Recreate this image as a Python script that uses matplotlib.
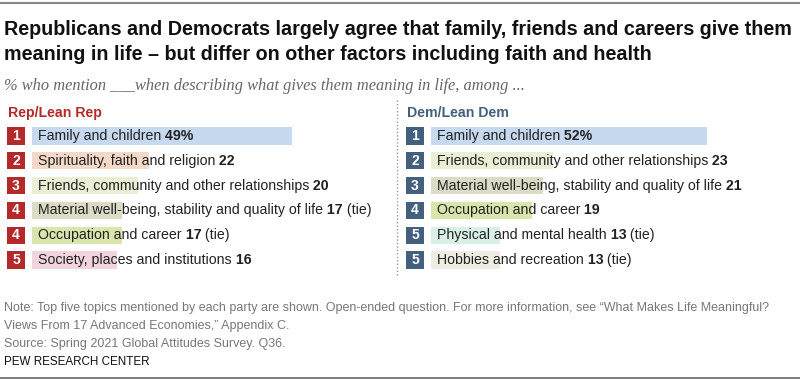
import matplotlib
matplotlib.use("Agg")
import matplotlib.pyplot as plt
from matplotlib.lines import Line2D

# Start Data Section *********************************************
rep_topics = ["Family and children", "Spirituality, faith and religion",
              "Friends, community and other relationships",
              "Material well-being, stability and quality of life",
              "Occupation and career", "Society, places and institutions"]
rep_values = [49, 22, 20, 17, 17, 16]
rep_ranks = ["1", "2", "3", "4", "4", "5"]
rep_value_labels = ["49%", "22", "20", "17", "17", "16"]
rep_ties = ["", "", "", " (tie)", " (tie)", ""]

dem_topics = ["Family and children", "Friends, community and other relationships",
              "Material well-being, stability and quality of life",
              "Occupation and career", "Physical and mental health",
              "Hobbies and recreation"]
dem_values = [52, 23, 21, 19, 13, 13]
dem_ranks = ["1", "2", "3", "4", "5", "5"]
dem_value_labels = ["52%", "23", "21", "19", "13", "13"]
dem_ties = ["", "", "", "", " (tie)", " (tie)"]

topic_colors = {
    "Family and children": "#c7d9ef",
    "Spirituality, faith and religion": "#f5d9c8",
    "Friends, community and other relationships": "#e9eed5",
    "Material well-being, stability and quality of life": "#dcdcc6",
    "Occupation and career": "#d9e5ad",
    "Society, places and institutions": "#f1d4de",
    "Physical and mental health": "#d8f0e6",
    "Hobbies and recreation": "#efece1",
}
# End Data Section ***********************************************

W, H = 800, 380
PX_PER_PCT = 5.31
ROW_H = 24.8
REP_RED = "#b42a2a"
DEM_BLUE = "#43607f"
SANS = ["Liberation Sans", "DejaVu Sans"]

fig = plt.figure(figsize=(W / 100, H / 100), dpi=100)
fig.patch.set_facecolor("white")


def fx(px):
    return px / W


def fy(py):
    return 1 - py / H


def draw_label(ax, y, parts):
    # parts: list of (text, weight); each part placed right after the previous one
    prev = ax.text(6 / PX_PER_PCT, y, parts[0][0], fontweight=parts[0][1],
                   fontsize=10.2, family=SANS, color="#222222", va="center", ha="left")
    for txt, weight in parts[1:]:
        prev = ax.annotate(txt, xy=(1, 0), xycoords=prev, va="bottom", ha="left",
                           fontsize=10.2, family=SANS, fontweight=weight, color="#222222")


def draw_panel(left_px, header, header_color, topics, values, ranks, vlabels, ties):
    top_px = 123.6
    width_px = 366
    ax = fig.add_axes([fx(left_px), fy(top_px + 6 * ROW_H), fx(width_px), 6 * ROW_H / H])
    ax.set_xlim(0, width_px / PX_PER_PCT)
    ax.set_ylim(5.5, -0.5)
    ax.axis("off")
    rows = list(range(len(topics)))
    ax.barh(rows, values, height=0.69, color=[topic_colors[t] for t in topics], lw=0)
    # rank squares to the left of the bars
    ax.barh(rows, 18 / PX_PER_PCT, left=-25 / PX_PER_PCT, height=0.69,
            color=header_color, lw=0, clip_on=False)
    for r, rank, topic, vl, tie in zip(rows, ranks, topics, vlabels, ties):
        ax.text(-16 / PX_PER_PCT, r, rank, color="white", fontweight="bold",
                fontsize=10, family=SANS, ha="center", va="center")
        parts = [(topic, "normal"), (" " + vl, "bold")]
        if tie:
            parts.append((tie, "normal"))
        draw_label(ax, r, parts)
    fig.text(fx(left_px - 24), fy(113), header, color=header_color, fontweight="bold",
             fontsize=10.2, family=SANS, va="center", ha="left")
    return ax


draw_panel(32, "Rep/Lean Rep", REP_RED, rep_topics, rep_values, rep_ranks,
           rep_value_labels, rep_ties)
draw_panel(431, "Dem/Lean Dem", DEM_BLUE, dem_topics, dem_values, dem_ranks,
           dem_value_labels, dem_ties)

# dotted separator and rules
fig.add_artist(Line2D([fx(397), fx(397)], [fy(100), fy(275)], color="#999999",
                      lw=1, ls=(0, (1, 1.5))))
fig.add_artist(Line2D([0, 1], [fy(2.5), fy(2.5)], color="#888888", lw=1.5))
fig.add_artist(Line2D([0, 1], [fy(378), fy(378)], color="#666666", lw=1.2))

# title and subtitle
fig.text(fx(4), fy(35), "Republicans and Democrats largely agree that family, friends and careers give them",
         fontsize=14.2, fontweight="bold", family=SANS, color="#111111", va="baseline")
fig.text(fx(4), fy(60), "meaning in life \u2013 but differ on other factors including faith and health",
         fontsize=14.2, fontweight="bold", family=SANS, color="#111111", va="baseline")
fig.text(fx(4), fy(90), "% who mention ___when describing what gives them meaning in life, among ...",
         fontsize=11.8, style="italic", family=["Liberation Serif", "DejaVu Serif"],
         color="#666666", va="baseline")

# notes
note_color = "#777777"
fig.text(fx(4), fy(311), "Note: Top five topics mentioned by each party are shown. Open-ended question. "
         "For more information, see \u201cWhat Makes Life Meaningful?", fontsize=9,
         family=SANS, color=note_color, va="baseline")
fig.text(fx(4), fy(329), "Views From 17 Advanced Economies,\u201d Appendix C.", fontsize=9,
         family=SANS, color=note_color, va="baseline")
fig.text(fx(4), fy(347), "Source: Spring 2021 Global Attitudes Survey. Q36.", fontsize=9,
         family=SANS, color=note_color, va="baseline")
fig.text(fx(4), fy(365), "PEW RESEARCH CENTER", fontsize=8.4, family=SANS,
         color="#111111", va="baseline")

fig.savefig("out.png", dpi=100, facecolor="white")
